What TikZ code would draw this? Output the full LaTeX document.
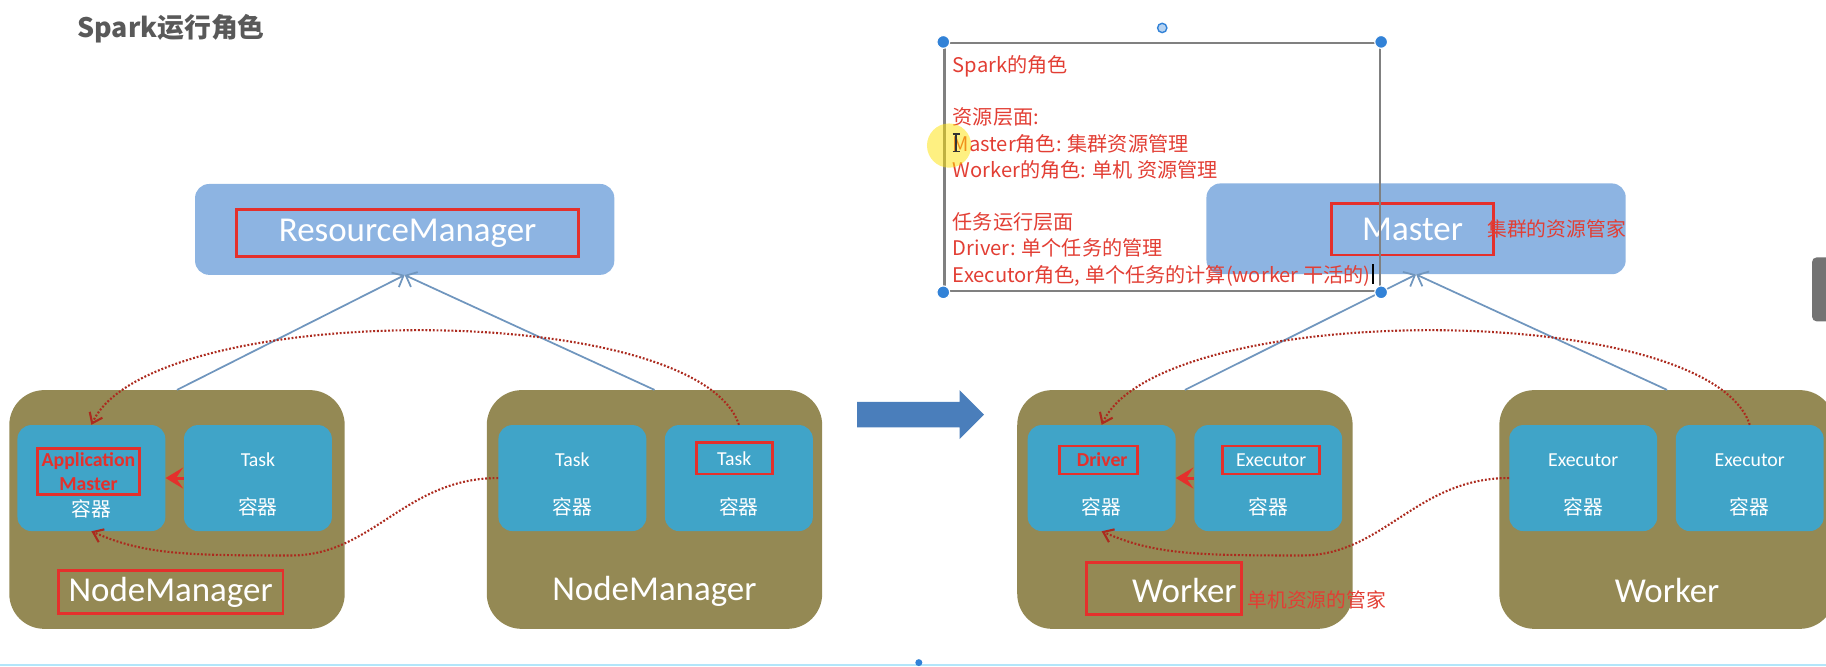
\documentclass[tikz,border=0pt]{standalone}
\usepackage{fontspec}
\setmainfont{Carlito}
\newfontfamily\cjk{Noto Sans CJK SC}
\usetikzlibrary{arrows.meta}
\definecolor{rmblue}{RGB}{141,180,226}
\definecolor{nmolive}{RGB}{148,137,84}
\definecolor{boxteal}{RGB}{64,164,200}
\definecolor{markred}{RGB}{228,48,44}
\definecolor{notered}{RGB}{226,62,52}
\definecolor{linkblue}{RGB}{112,150,190}
\definecolor{flowred}{RGB}{172,42,30}
\definecolor{arrowblue}{RGB}{74,126,187}
\definecolor{titlegray}{RGB}{89,89,89}
\definecolor{framegray}{RGB}{128,128,128}
\definecolor{handleblue}{RGB}{50,130,215}
\tikzset{manager/.style={fill=rmblue, rounded corners=12pt, minimum width=360pt, minimum height=78pt},
  host/.style={fill=nmolive, rounded corners=30pt, minimum width=288pt, minimum height=205pt},
  container/.style={fill=boxteal, rounded corners=12pt, minimum width=127pt, minimum height=91pt},
  redframe/.style={draw=markred, line width=2.5pt, inner sep=0pt},
  big/.style={text=white, font=\fontsize{30}{36}\selectfont},
  tag/.style={text=white, font=\fontsize{17}{20}\selectfont},
  zh/.style={text=white, font=\cjk\fontsize{17}{20}\selectfont},
  note/.style={text=notered, font=\cjk\fontsize{17}{20}\selectfont, anchor=west, inner sep=0pt},
  link/.style={draw=linkblue, line width=1.5pt, -{Straight Barb[length=8pt,width=14pt]}},
  flow/.style={draw=flowred, line width=1.8pt, dash pattern=on 1.6pt off 1.6pt, -{Straight Barb[length=8pt,width=12pt]}},
  push/.style={draw=markred, line width=2.5pt, -{Stealth[length=15pt,width=18pt,inset=6pt]}},
  handle/.style={circle, fill=handleblue, draw=white, line width=1pt, inner sep=0pt, minimum size=11pt}}

\begin{document}
\begin{tikzpicture}[x=1pt,y=-1pt]
   \useasboundingbox (0,0) rectangle (1568,572);
   \clip (0,0) rectangle (1568,572);
   \node[anchor=west, text=titlegray, font=\cjk\bfseries\fontsize{23}{27}\selectfont] (title) at (63,25) {Spark运行角色};

   % YARN
   \node[manager] (rm) at (347.5,197) {};
   \node[big, redframe, minimum width=294pt, minimum height=40pt] (rmtxt) at (350,200) {ResourceManager};
   \node[host] (nmA) at (152,437.5) {};
   \node[host] (nmB) at (562,437.5) {};
   \node[container] (A1) at (78.5,410.5) {};
   \node[container] (A2) at (221.5,410.5) {};
   \node[container] (B1) at (491.5,410.5) {};
   \node[container] (B2) at (634.5,410.5) {};
   \node[redframe, text=markred, font=\bfseries\fontsize{17}{21}\selectfont, align=center,
         minimum width=88pt, minimum height=40pt] (A1t) at (76,405) {Application\\Master};
   \node[zh] (A1z) at (78.5,437) {容器};
   \node[tag] (A2t) at (221.5,395) {Task};
   \node[zh] (A2z) at (221.5,435) {容器};
   \node[tag] (B1t) at (491.5,395) {Task};
   \node[zh] (B1z) at (491.5,435) {容器};
   \node[tag, redframe, minimum width=65pt, minimum height=27pt] (B2t) at (630.5,393.5) {Task};
   \node[zh] (B2z) at (634.5,435) {容器};
   \node[big, redframe, minimum width=193pt, minimum height=37pt] (nmAt) at (146.5,508.5) {NodeManager};
   \node[big] (nmBt) at (562,508) {NodeManager};
   \draw[link] (nmA.north) -- (rm.south);
   \draw[link] (nmB.north) -- (rm.south);
   \draw[push] (A2.west) -- (A1.east);
   \draw[flow] (B2.north) .. controls +(-35,-108) and +(50,-108) .. (A1.north);
   \coordinate (dipA) at (250,477);
   \draw[flow] (B1.west) .. controls +(-80,0) and +(70,0) .. (dipA) .. controls +(-90,0) and +(45,20) .. (A1.south);

   \fill[arrowblue] (736,345) -- (824,345) -- (824,335) -- (845,356) -- (824,377) -- (824,367) -- (736,367) -- cycle;

   % Spark standalone
   \node[manager] (master) at (1216,196.5) {};
   \node[big, redframe, minimum width=139pt, minimum height=44pt] (mastert) at (1213,197) {Master};
   \node[note] (mastern) at (1277,197) {集群的资源管家};
   \node[host] (wC) at (1017.5,437.5) {};
   \node[host] (wD) at (1431.5,437.5) {};
   \node[container] (C1) at (946,410.5) {};
   \node[container] (C2) at (1089,410.5) {};
   \node[container] (D1) at (1359.5,410.5) {};
   \node[container] (D2) at (1502.5,410.5) {};
   \node[redframe, text=markred, font=\bfseries\fontsize{17}{20}\selectfont,
         minimum width=67pt, minimum height=24pt] (C1t) at (943.5,395) {\hspace{6pt}Driver};
   \node[zh] (C1z) at (946,435) {容器};
   \node[tag, redframe, minimum width=83pt, minimum height=24pt] (C2t) at (1091.5,395) {Executor};
   \node[zh] (C2z) at (1089,435) {容器};
   \node[tag] (D1t) at (1359.5,395) {Executor};
   \node[zh] (D1z) at (1359.5,435) {容器};
   \node[tag] (D2t) at (1502.5,395) {Executor};
   \node[zh] (D2z) at (1502.5,435) {容器};
   \node[redframe, minimum width=133pt, minimum height=45pt] (wCf) at (999.5,505.5) {};
   \node[big] (wCt) at (1017,507) {Worker};
   \node[note] (wCn) at (1071,515) {单机资源的管家};
   \node[big] (wDt) at (1431.5,507) {Worker};
   \draw[link] (wC.north) -- (master.south);
   \draw[link] (wD.north) -- (master.south);
   \draw[push] (C2.west) -- (C1.east);
   \draw[flow] (D2.north) .. controls +(-35,-108) and +(50,-108) .. (C1.north);
   \coordinate (dipC) at (1118,477);
   \draw[flow] (D1.west) .. controls +(-80,0) and +(70,0) .. (dipC) .. controls +(-90,0) and +(45,20) .. (C1.south);

   % text box with selection handles
   \node[draw=framegray, line width=2pt, minimum width=374pt, minimum height=213pt] (memo) at (998,143.5) {};
   \node[anchor=north west, inner sep=0pt, align=left, text=notered, font=\cjk\fontsize{17.3}{22.5}\selectfont]
        (memot) at (818,47.5) {Spark的角色\\[22.5pt]
        资源层面:\\
        Master角色: 集群资源管理\\
        Worker的角色: 单机 资源管理\\[22.5pt]
        任务运行层面\\
        Driver: 单个任务的管理\\
        Executor角色, 单个任务的计算(worker 干活的)};
   \node[handle] (h1) at (memo.north west) {};
   \node[handle] (h2) at (memo.north east) {};
   \node[handle] (h3) at (memo.south west) {};
   \node[handle] (h4) at (memo.south east) {};
   \node[circle, draw=handleblue, fill=handleblue!35, line width=1.2pt, inner sep=0pt, minimum size=8pt] (rot) at (998,24) {};
   \fill[yellow!85!orange, opacity=0.5] (815,125) circle[radius=19pt];
   \draw[black!80, line width=1.2pt] (821,115) -- (821,130) (818,115) -- (824,115) (818,130) -- (824,130);
   \draw[black, line width=1.5pt] (1179,227) -- (1179,244);

   \fill[black!55, rounded corners=4pt] (1556,221) rectangle (1590,276);
   \draw[cyan!30, line width=2pt] (0,571) -- (1568,571);
   \fill[handleblue] (789,569) circle[radius=3pt];
\end{tikzpicture}
\end{document}
